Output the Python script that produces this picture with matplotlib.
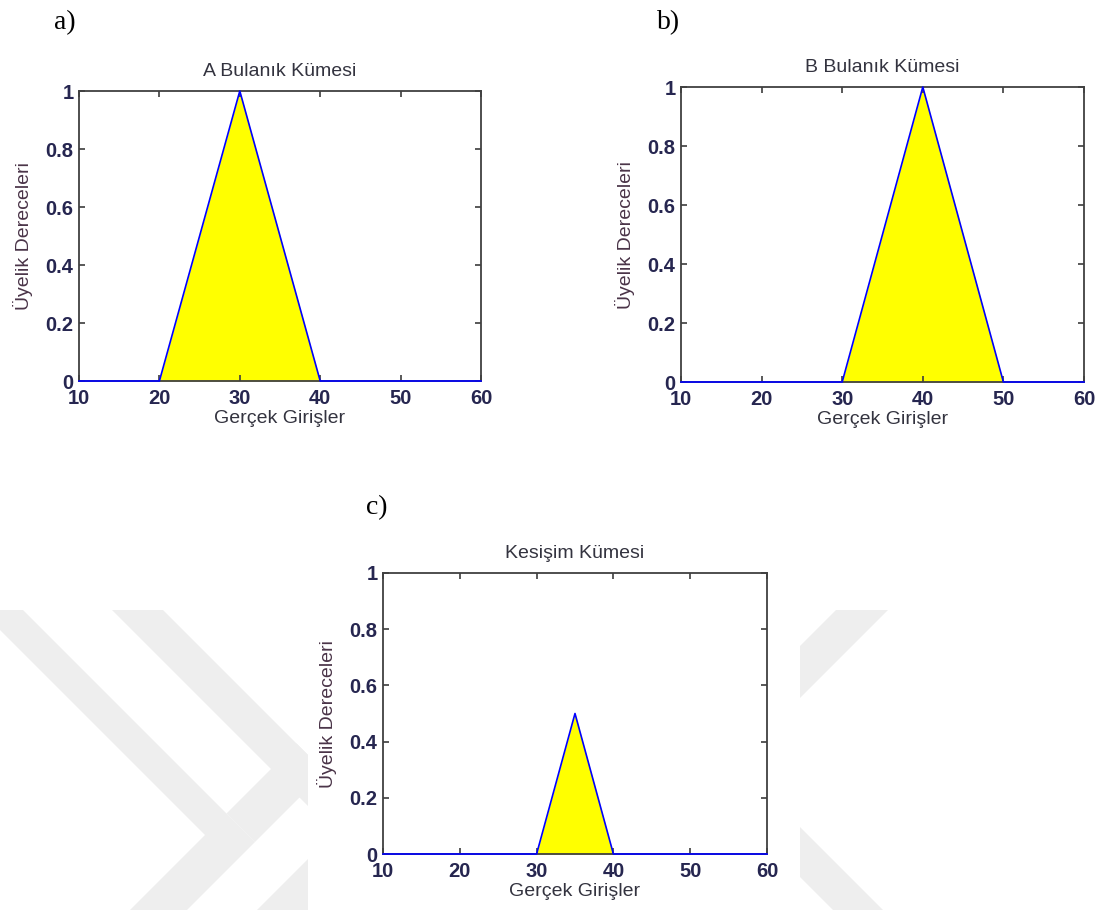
import matplotlib
matplotlib.use("Agg")
import matplotlib.pyplot as plt
from matplotlib.patches import Polygon, Rectangle

# membership functions (x = real inputs, y = membership degree)
a_x = [10, 20, 30, 40, 60]
a_y = [0, 0, 1, 0, 0]
b_x = [10, 30, 40, 50, 60]
b_y = [0, 0, 1, 0, 0]
c_x = [10, 30, 35, 40, 60]
c_y = [0, 0, 0.5, 0, 0]

titles = ["A Bulanık Kümesi", "B Bulanık Kümesi", "Kesişim Kümesi"]
panel_tags = ["a)", "b)", "c)"]
xlab = "Gerçek Girişler"
ylab = "Üyelik Dereceleri"
xticks = [10, 20, 30, 40, 50, 60]
yticks = [0, 0.2, 0.4, 0.6, 0.8, 1]
yticklabels = ["0", "0.2", "0.4", "0.6", "0.8", "1"]

W, H = 1106, 910
fig = plt.figure(figsize=(W / 100, H / 100), dpi=100)
fig.patch.set_facecolor("white")

# faint watermark behind the lower panel
bg = fig.add_axes([0, 0, 1, 1], zorder=-5)
bg.set_xlim(0, W)
bg.set_ylim(H, 0)
bg.axis("off")
wm = "#eeeeee"
shapes = [
    [(-20, 610), (23, 610), (255, 842), (177, 920), (120, 920), (205, 835)],
    [(226.5, 813.5), (296.5, 743.5), (325, 772), (255, 842)],
    [(112, 610), (163, 610), (385.5, 832.5), (298, 920), (247, 920), (334.5, 832.5)],
    [(836, 610), (888, 610), (700, 798), (700, 746)],
    [(700, 777), (700, 727), (893, 920), (843, 920)],
]
for s in shapes:
    bg.add_patch(Polygon(s, closed=True, facecolor=wm, edgecolor="none"))
bg.add_patch(Rectangle((308, 540), 492, 370, facecolor="white", edgecolor="none"))

sans = "Liberation Sans"
txt_col = "#33333f"
tick_col = "#262650"
ylab_col = "#4a3448"


def panel(rect, x, y, title):
    ax = fig.add_axes(rect)
    ax.fill_between(x, y, 0, color="#ffff00", linewidth=0, zorder=1)
    ax.plot(x, y, color="#0000ff", linewidth=1.2, zorder=3, clip_on=False)
    ax.set_xlim(10, 60)
    ax.set_ylim(0, 1)
    ax.set_xticks(xticks)
    ax.set_yticks(yticks)
    ax.set_xticklabels([str(t) for t in xticks], fontfamily=sans, fontsize=14.5,
                       fontweight="bold")
    ax.set_yticklabels(yticklabels, fontfamily=sans, fontsize=14.5,
                       fontweight="bold")
    ax.tick_params(direction="in", top=True, right=True, length=4, width=1.2,
                   color="#3c3c3c", labelcolor=tick_col)
    ax.tick_params(axis="x", pad=6)
    ax.tick_params(axis="y", pad=4)
    for sp in ax.spines.values():
        sp.set_color("#404040")
        sp.set_linewidth(1.3)
    ax.set_title(title, fontfamily=sans, fontsize=14, color=txt_col, pad=11)
    ax.set_xlabel(xlab, fontfamily=sans, fontsize=14, color=txt_col, labelpad=1)
    ax.set_ylabel(ylab, fontfamily=sans, fontsize=14, color=ylab_col, labelpad=9)
    return ax


panel([79 / W, 1 - 381 / H, 402 / W, 290 / H], a_x, a_y, titles[0])
panel([681 / W, 1 - 382 / H, 403 / W, 295 / H], b_x, b_y, titles[1])
panel([383 / W, 1 - 854 / H, 384 / W, 281 / H], c_x, c_y, titles[2])

tag_pos = [(54, 29), (657, 29), (366, 514)]
for tag, (px, py) in zip(panel_tags, tag_pos):
    fig.text(px / W, 1 - py / H, tag, fontfamily="Liberation Serif",
             fontsize=20, color="black", ha="left", va="baseline")

fig.savefig("out.png", dpi=100)
